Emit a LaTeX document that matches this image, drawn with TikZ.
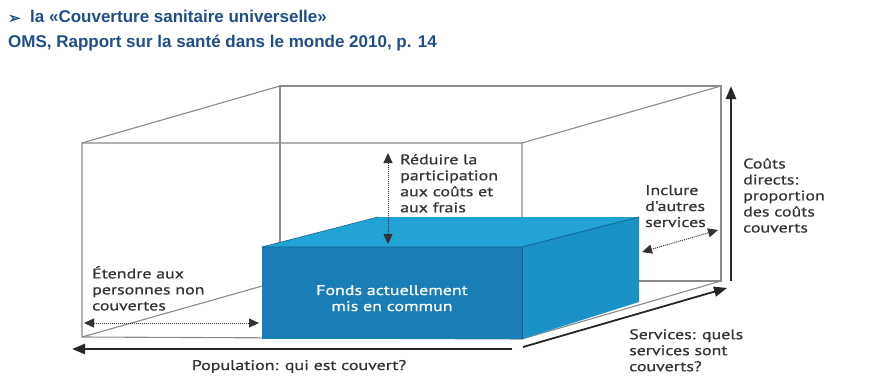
\documentclass[tikz,border=0pt]{standalone}
\usepackage{fontspec}
\setmainfont{PT Sans}
\newfontfamily\lblfont[FakeStretch=1.28,FakeBold=0.6]{PT Sans}
\newfontfamily\hdrfont{Liberation Sans}
\newfontfamily\symfont[FakeBold=1.5]{DejaVu Sans}
\usetikzlibrary{arrows.meta}
\definecolor{hdrblue}{HTML}{1F4E8A}
\definecolor{frontblue}{HTML}{1B7DB6}
\definecolor{topblue}{HTML}{21A3D6}
\definecolor{sideblue}{HTML}{1A92C8}
\definecolor{edgeblue}{HTML}{14628F}
\definecolor{framegray}{HTML}{8A8A8A}
\definecolor{txtgray}{HTML}{333333}
\begin{document}
\begin{tikzpicture}[x=1pt,y=-1pt,
  frame/.style={draw=framegray,line width=1.1pt},
  bigarrow/.style={draw=black!85,line width=2.4pt,-{Triangle[length=13pt,width=10pt]}},
  dotarrow/.style={draw=black!80,line width=1pt,dash pattern=on 1pt off 1pt,
     {Triangle[length=10pt,width=9pt]}-{Triangle[length=10pt,width=9pt]}},
  lbl/.style={inner sep=0pt,anchor=north west,align=left,text=txtgray,
     font=\lblfont\fontsize{14}{16}\selectfont},
  hdr/.style={inner sep=0pt,anchor=base west,text=hdrblue,
     font=\hdrfont\bfseries\fontsize{17}{20}\selectfont}
]
\useasboundingbox (0,0) rectangle (872,388);

% header
\node[hdr,font=\symfont\fontsize{15}{18}\selectfont] (h0) at (8,23) {➢};
\node[hdr] (h1) at (30,23) {la «Couverture sanitaire universelle»};
\node[hdr] (h2) at (8,47) {OMS, Rapport sur la santé dans le monde 2010, p. 14};

% outer box corners
\coordinate (F1) at (82,143);
\coordinate (F2) at (522,143);
\coordinate (F3) at (522,339);
\coordinate (F4) at (82,337);
\coordinate (B1) at (280,86);
\coordinate (B2) at (721,86);
\coordinate (B3) at (721,281);
\coordinate (B4) at (280,281);

\draw[frame] (F4) -- (F1) -- (F2) -- (F3) -- cycle;
\draw[frame] (B1) -- (B2) -- (B3) -- (B4) -- cycle;
\draw[frame] (F1) -- (B1);
\draw[frame] (F2) -- (B2);
\draw[frame] (F4) -- (B4);
\draw[frame] (F3) -- (B3);

% blue box corners
\coordinate (P1) at (262,247);
\coordinate (P2) at (522,247);
\coordinate (P3) at (522,339);
\coordinate (P4) at (262,339);
\coordinate (Q1) at (378,217);
\coordinate (Q2) at (639,217);
\coordinate (Q3) at (639,302);

\fill[topblue] (P1) -- (Q1) -- (Q2) -- (P2) -- cycle;
\fill[sideblue] (P2) -- (Q2) -- (Q3) -- (P3) -- cycle;
\fill[frontblue] (P1) -- (P2) -- (P3) -- (P4) -- cycle;
\draw[edgeblue,line width=0.8pt] (P1) -- (P2) -- (Q2);
\draw[edgeblue,line width=0.6pt] (P2) -- (P3);
\draw[edgeblue,line width=0.6pt] (P1) -- (Q1);

% axes
\coordinate (popR) at (512,349);
\coordinate (popL) at (72,349);
\draw[bigarrow] (popR) -- (popL);
\coordinate (srvA) at (523,347);
\coordinate (srvB) at (727,288);
\draw[bigarrow,line width=1.8pt] (srvA) -- (srvB);
\coordinate (cstA) at (731,281);
\coordinate (cstB) at (731,86);
\draw[bigarrow] (cstA) -- (cstB);

% dotted arrows
\coordinate (redT) at (388,153);
\coordinate (redB) at (388,244);
\draw[dotarrow] (redB) -- (redT);
\coordinate (incA) at (642,252);
\coordinate (incB) at (718,230);
\draw[dotarrow] (incA) -- (incB);
\coordinate (etL) at (84,323);
\coordinate (etR) at (259,323);
\draw[dotarrow] (etL) -- (etR);

% labels
\node[lbl] (reduire) at (400,154) {Réduire la\\participation\\aux coûts et\\aux frais};
\node[lbl] (inclure) at (645,185) {Inclure\\d'autres\\services};
\node[lbl] (couts) at (743,158) {Coûts\\directs:\\proportion\\des coûts\\couverts};
\node[lbl] (etendre) at (92,266) {Étendre aux\\personnes non\\couvertes};
\node[lbl,anchor=north,align=center,text=white] (fonds) at (392,285) {Fonds actuellement\\mis en commun};
\node[lbl,anchor=base] (pop) at (299,370) {Population: qui est couvert?};
\node[lbl] (serv) at (629,329) {Services: quels\\services sont\\couverts?};
\end{tikzpicture}
\end{document}
